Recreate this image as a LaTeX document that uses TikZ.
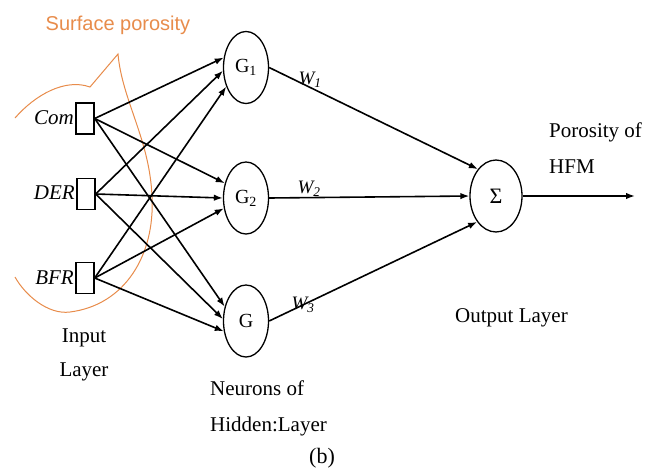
\documentclass[tikz,border=0pt]{standalone}
\usepackage{fontspec}
\setmainfont{Liberation Serif}
\newfontfamily\sansf{Liberation Sans}
\usetikzlibrary{shapes.geometric,arrows.meta}
\definecolor{orng}{RGB}{232,140,75}
\begin{document}
\begin{tikzpicture}[x=1pt,y=-1pt,
  inbox/.style={draw, line width=1.4pt, minimum width=18pt, minimum height=31pt, inner sep=0pt},
  neuron/.style={draw, ellipse, line width=1.3pt, minimum width=45pt, minimum height=72pt, inner sep=0pt, font=\fontsize{20}{22}\selectfont},
  conn/.style={line width=1.6pt, -{Latex[length=9pt,width=6.5pt]}},
  inlabel/.style={anchor=east, inner sep=0pt, font=\fontsize{21}{24}\selectfont\itshape},
  wlabel/.style={inner sep=0pt, font=\fontsize{19}{20}\selectfont\itshape},
  caption/.style={inner sep=0pt, align=left, anchor=west, font=\fontsize{21}{36}\selectfont}]
\useasboundingbox (0,0) rectangle (664,472);
\fill[white] (0,0) rectangle (664,472);

% surface porosity callout
\node[font=\sansf\fontsize{20}{24}\selectfont, text=orng, inner sep=0pt] (sp) at (118,25) {Surface porosity};
\draw[orng, line width=1pt] (15,118) .. controls (35,95) and (65,78) .. (90,87)
  -- (118,54) .. controls (122,100) and (150,140) .. (152,197)
  .. controls (155,255) and (125,305) .. (70,312)
  .. controls (48,315) and (25,295) .. (15,277);

% inputs
\node[inbox] (com) at (85,118.5) {};
\node[inbox] (der) at (86,194) {};
\node[inbox] (bfr) at (85,278) {};
\node[inlabel] (comt) at (74,118) {Com};
\node[inlabel] (dert) at (75,193) {DER};
\node[inlabel] (bfrt) at (74,278) {BFR};

% neurons
\node[neuron] (g1) at (246,67.5) {G\textsubscript{1}};
\node[neuron] (g2) at (246,198) {G\textsubscript{2}};
\node[neuron] (g3) at (246,321) {G};
\node[neuron, minimum width=52pt, font=\fontsize{22}{24}\selectfont] (sum) at (496,196) {Σ};

% connections
\draw[conn] (com.east) -- (g1.156);
\draw[conn] (com.east) -- (g2.145);
\draw[conn] (com.east) -- (g3.146);
\draw[conn] (der.east) -- (g1.188);
\draw[conn] (der.east) -- (g2.180);
\draw[conn] (der.east) -- (g3.175);
\draw[conn] (bfr.east) -- (g1.224);
\draw[conn] (bfr.east) -- (g2.205);
\draw[conn] (bfr.east) -- (g3.205);
\draw[conn] (g1.east) -- (sum.124);
\draw[conn] (g2.east) -- (sum.180);
\draw[conn] (g3.east) -- (sum.234);
\coordinate (out) at (635,196);
\draw[conn] (sum.east) -- (out);

% weights
\node[wlabel] (w1) at (310,80) {W\textsubscript{1}};
\node[wlabel] (w2) at (309,189) {W\textsubscript{2}};
\node[wlabel] (w3) at (303,305) {W\textsubscript{3}};

% captions
\node[caption, anchor=center, align=center, font=\fontsize{21}{34}\selectfont] (inl) at (84,355) {Input\\Layer};
\node[caption] (hid) at (210,408.5) {Neurons of\\Hidden:Layer};
\node[caption] (outl) at (455,318) {Output Layer};
\node[caption] (por) at (549,148.5) {Porosity of\\HFM};
\node[inner sep=0pt, font=\fontsize{22}{24}\selectfont] (cap) at (322,458) {(b)};
\end{tikzpicture}
\end{document}
